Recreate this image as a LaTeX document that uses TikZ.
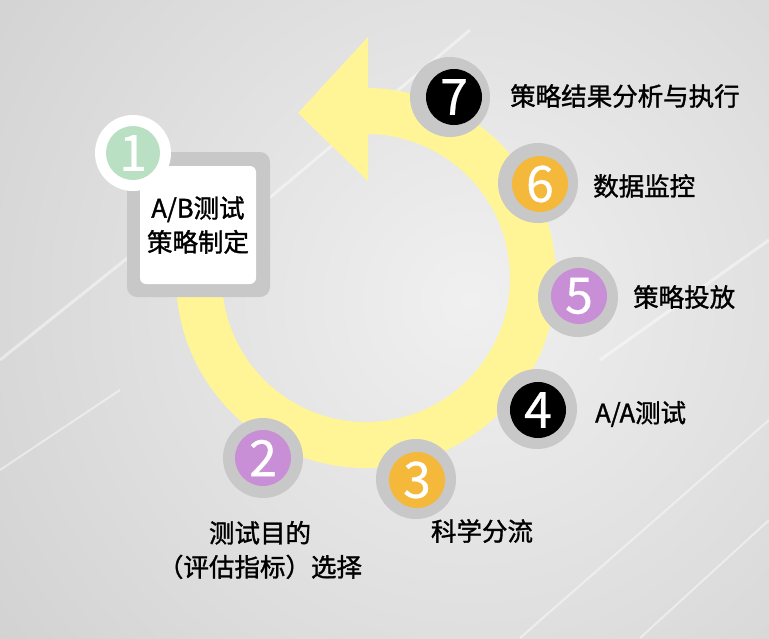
\documentclass[tikz,border=0pt]{standalone}
\usepackage{fontspec}
\setmainfont{Noto Sans CJK SC}
\newfontfamily\medfont{Noto Sans CJK SC}[FakeBold=1.3]
\newfontfamily\digfont{Noto Sans CJK SC}[FakeBold=0.6]
\usetikzlibrary{calc}
\definecolor{bgdark}{RGB}{198,198,198}
\definecolor{bglight}{RGB}{240,240,240}
\definecolor{ringyel}{RGB}{255,245,150}
\definecolor{halogray}{RGB}{200,200,200}
\definecolor{purp}{RGB}{200,142,214}
\definecolor{orng}{RGB}{244,184,58}
\definecolor{mint}{RGB}{185,224,195}
\begin{document}
\begin{tikzpicture}[x=1pt,y=-1pt,
  haloc/.style={circle, fill=halogray, minimum size=80pt, inner sep=0pt},
  disc/.style={circle, minimum size=56pt, inner sep=0pt, text=white, font=\digfont\fontsize{50}{50}\selectfont},
  steptext/.style={font=\medfont\fontsize{25.5}{34}\selectfont, inner sep=0pt, text=black},
  streak/.style={white, opacity=0.45, line width=3pt}
]
\useasboundingbox (0,0) rectangle (769,638);
% background
\begin{scope}
\clip (0,0) rectangle (769,638);
\shade[inner color=bglight, outer color=bgdark] (470,300) circle[radius=820pt];
\draw[streak] (0,360) -- (200,200);
\draw[streak] (255,210) -- (470,30);
\draw[streak] (600,360) -- (769,240);
\draw[streak, line width=2pt] (520,638) -- (769,420);
\draw[streak, line width=2pt] (0,470) -- (120,390);
\draw[streak, line width=2pt] (640,638) -- (769,520);
\end{scope}
% ring with arrow
\coordinate (C) at (366,278);
\draw[ringyel, line width=46pt] (C) ++(145:167pt) arc[start angle=145, end angle=450, radius=167pt] coordinate (arrend);
\fill[ringyel] ($(arrend)+(2pt,-70pt)$) -- ($(arrend)+(-68pt,-2pt)$) -- ($(arrend)+(2pt,74pt)$) -- cycle;
% box 1
\node[fill=halogray, rounded corners=10pt, minimum width=143pt, minimum height=145pt, inner sep=0pt] (boxo) at (198.5,224.5) {};
\node[steptext, fill=white, rounded corners=6pt, minimum width=116pt, minimum height=118pt, align=center] (box) at (198,225) {A/B测试\\策略制定};
% step 1
\node[haloc, fill=white, minimum size=76pt] (h1) at (133,153) {};
\node[disc, fill=mint, minimum size=54pt] (c1) at (h1) {1};
% step 2
\node[haloc] (h2) at (263,458) {};
\node[disc, fill=purp] (c2) at (h2) {2};
\node[steptext, align=center] (t2) at (260,550) {测试目的\\（评估指标）选择};
% step 3
\node[haloc] (h3) at (416,479) {};
\node[disc, fill=orng] (c3) at (417,480) {3};
\node[steptext] (t3) at (482,531) {科学分流};
% step 4
\node[haloc] (h4) at (537,409) {};
\node[disc, fill=black] (c4) at (538,410) {4};
\node[steptext, anchor=west] (t4) at (595,414) {A/A测试};
% step 5
\node[haloc] (h5) at (578,297) {};
\node[disc, fill=purp] (c5) at (579,296) {5};
\node[steptext, anchor=west] (t5) at (633,297) {策略投放};
% step 6
\node[haloc] (h6) at (538,183) {};
\node[disc, fill=orng] (c6) at (540,184) {6};
\node[steptext, anchor=west] (t6) at (593,186) {数据监控};
% step 7
\node[haloc] (h7) at (450,97) {};
\node[disc, fill=black] (c7) at (454,97) {7};
\node[steptext, anchor=west] (t7) at (510,96) {策略结果分析与执行};
\end{tikzpicture}
\end{document}
